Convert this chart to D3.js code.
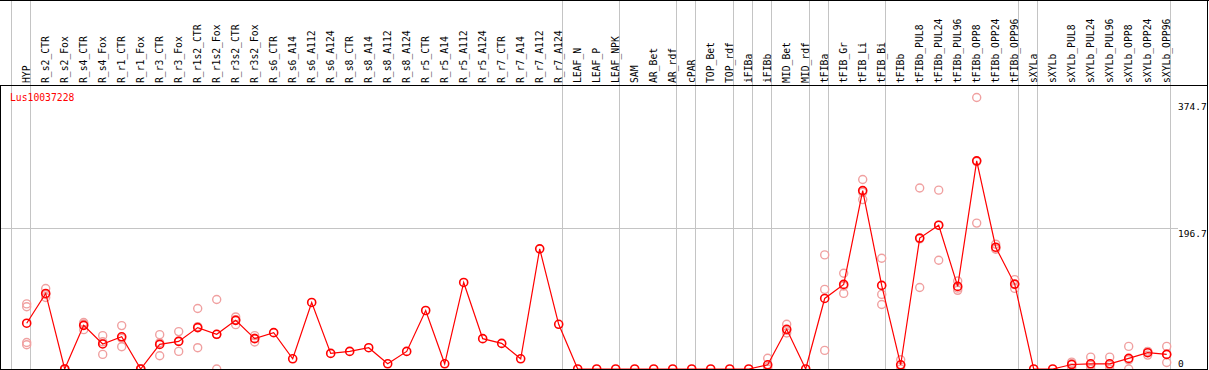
<!DOCTYPE html>
<html>
<head>
<meta charset="utf-8">
<script src="https://cdn.jsdelivr.net/npm/d3@7/dist/d3.min.js"></script>
<style>
    body { margin: 0; background: #ffffff; }
    #chart { width: 1209px; height: 370px; }
</style>
</head>
<body>
<div id="chart"></div>
<script>

var geneName = 'Lus10037228';

var categories = ['HYP', 'R_s2_CTR', 'R_s2_Fox', 'R_s4_CTR', 'R_s4_Fox', 'R_r1_CTR', 'R_r1_Fox',
    'R_r3_CTR', 'R_r3_Fox', 'R_r1s2_CTR', 'R_r1s2_Fox', 'R_r3s2_CTR', 'R_r3s2_Fox', 'R_s6_CTR',
    'R_s6_A14', 'R_s6_A112', 'R_s6_A124', 'R_s8_CTR', 'R_s8_A14', 'R_s8_A112', 'R_s8_A124',
    'R_r5_CTR', 'R_r5_A14', 'R_r5_A112', 'R_r5_A124', 'R_r7_CTR', 'R_r7_A14', 'R_r7_A112', 'R_r7_A124',
    'LEAF_N', 'LEAF_P', 'LEAF_NPK', 'SAM', 'AR_Bet', 'AR_rdf', 'cPAR', 'TOP_Bet', 'TOP_rdf',
    'iFIBa', 'iFIBb', 'MID_Bet', 'MID_rdf', 'tFIBa', 'tFIB_Gr', 'tFIB_Li', 'tFIB_Bi', 'tFIBb',
    'tFIBb_PUL8', 'tFIBb_PUL24', 'tFIBb_PUL96', 'tFIBb_OPP8', 'tFIBb_OPP24', 'tFIBb_OPP96',
    'sXYLa', 'sXYLb', 'sXYLb_PUL8', 'sXYLb_PUL24', 'sXYLb_PUL96', 'sXYLb_OPP8', 'sXYLb_OPP24', 'sXYLb_OPP96'];

// mean expression per sample
var meanValues = [64, 105.6, 0, 61, 35, 45, 0, 34.4, 38.6, 57.9, 48.5, 68, 42.4, 50.8,
    14.3, 93, 21.8, 24.6, 29.8, 7.3, 24.6, 81.8, 7.3, 121, 42.4, 35.8, 14.3, 168, 62.5,
    0, 0, 0, 0, 0, 0, 0, 0, 0, 0, 5.9, 55.5, 0, 98.6, 118.3, 249.4, 116.9, 5.9,
    183, 201, 115.5, 291, 170.3, 118.7, 0, 0, 6.3, 7.3, 7.3, 14.8, 22.8, 20.4];

// single replicates per sample
var replicateValues = [[91, 87, 37, 34], [112.6, 100, 104], [0, 0, 0], [65, 55, 63], [46.6, 20.4, 38],
    [60.7, 31.2, 43], [0, 0, 0], [48, 18.5, 36.7], [52.3, 24.6, 39], [84.6, 29.8, 59.3],
    [97.2, 0, 48.3], [72.8, 62, 69], [46.6, 37.7, 43], [], [], [], [], [], [], [], [], [], [], [], [],
    [], [], [], [], [], [], [], [], [], [], [], [], [], [], [15, 0, 3], [62.5, 50.3, 54], [],
    [159.5, 111.3, 26], [133.8, 105.7, 116], [264.9, 236.8, 247], [154.8, 104.3, 90.2], [12.9, 0, 5],
    [253, 114, 182], [250, 152, 201], [123, 110, 113], [379.6, 204, 290], [174.5, 167.5, 169],
    [125, 112.7, 118], [], [], [9.6, 1.6, 7.7], [16.6, 0, 5.3], [16.6, 0, 5.3], [31.6, 0, 12.8],
    [24.7, 19.4, 24.3], [31.6, 9.1, 20.5]];

// separators drawn after these samples (-1 = before the first one)
var groupEnds = [-1, 0, 28, 31, 34, 35, 37, 38, 39, 41, 42, 45, 52, 53, 60];

var tickValues = [0, 196.7, 374.7];
var tickLabels = ['0', '196.7', '374.7'];
var gridValues = [196.7];

function drawChart(divname) {
    var svgWidth = 1209;
    var svgHeight = 370;
    var svg = d3.select('#' + divname)
        .append('svg')
        .attr('width', svgWidth)
        .attr('height', svgHeight)
        .style('display', 'block');

    var font = 'DejaVu Sans Mono, Liberation Mono, monospace';
    var charW = 5.85;
    var headerBottom = 85.5;
    var plotBottom = 369.5;
    var rightEdge = 1207.5;

    // x: one slot per sample
    var xScale = d3.scalePoint()
        .domain(categories)
        .range([26.7, 1166.7]);
    var step = xScale.step();

    var yScale = d3.scaleLinear()
        .domain([0, 196.7])
        .range([369, 228.3]);

    // horizontal grid line
    svg.append('g').selectAll('line')
        .data(gridValues)
        .enter()
        .append('line')
        .attr('x1', 1)
        .attr('x2', 1178)
        .attr('y1', function (d) { return Math.round(yScale(d)) + 0.5; })
        .attr('y2', function (d) { return Math.round(yScale(d)) + 0.5; })
        .style('stroke', '#c4c4c4')
        .style('stroke-width', 1);

    // group separators
    svg.append('g').selectAll('line')
        .data(groupEnds)
        .enter()
        .append('line')
        .attr('x1', function (d) { return Math.round(xScale(categories[0]) + d * step + 3.7) + 0.5; })
        .attr('x2', function (d) { return Math.round(xScale(categories[0]) + d * step + 3.7) + 0.5; })
        .attr('y1', 0)
        .attr('y2', svgHeight)
        .style('stroke', '#c4c4c4')
        .style('stroke-width', 1);

    // sample labels
    svg.append('g').selectAll('text')
        .data(categories)
        .enter()
        .append('text')
        .attr('x', function (d) { return xScale(d) + 3; })
        .attr('y', 83)
        .attr('transform', function (d) { return 'rotate(-90,' + (xScale(d) + 3) + ',83)'; })
        .attr('textLength', function (d) { return d.length * charW; })
        .attr('lengthAdjust', 'spacingAndGlyphs')
        .style('font-family', font)
        .style('font-size', '11px')
        .style('fill', '#000000')
        .text(function (d) { return d; });

    // borders
    svg.append('line').attr('x1', 0).attr('x2', svgWidth).attr('y1', 0.5).attr('y2', 0.5)
        .style('stroke', '#000').style('stroke-width', 1);
    svg.append('line').attr('x1', 0).attr('x2', rightEdge).attr('y1', headerBottom).attr('y2', headerBottom)
        .style('stroke', '#000').style('stroke-width', 1);
    svg.append('line').attr('x1', 0).attr('x2', rightEdge).attr('y1', plotBottom).attr('y2', plotBottom)
        .style('stroke', '#000').style('stroke-width', 1);
    svg.append('line').attr('x1', 0.5).attr('x2', 0.5).attr('y1', headerBottom).attr('y2', svgHeight)
        .style('stroke', '#000').style('stroke-width', 1);
    svg.append('line').attr('x1', rightEdge).attr('x2', rightEdge).attr('y1', 0).attr('y2', svgHeight)
        .style('stroke', '#000').style('stroke-width', 1);

    // value axis on the right
    var gyaxis = svg.append('g')
        .attr('transform', 'translate(1173,0)');
    var yaxis = d3.axisRight()
        .scale(yScale)
        .tickValues(tickValues)
        .tickSize(0)
        .tickPadding(5)
        .tickFormat(function (d, i) { return tickLabels[i]; });
    yaxis(gyaxis);
    gyaxis.select('.domain').remove();
    gyaxis.selectAll('text')
        .attr('dy', function (d) { return d === 0 ? '-0.3em' : '0.85em'; })
        .style('font-family', font)
        .style('font-size', '9.5px')
        .style('fill', '#000000');

    // gene name
    svg.append('text')
        .attr('x', 10)
        .attr('y', 101)
        .attr('textLength', geneName.length * charW)
        .attr('lengthAdjust', 'spacingAndGlyphs')
        .style('font-family', font)
        .style('font-size', '11px')
        .style('fill', '#ff0000')
        .text(geneName);

    // data area, clipped at the bottom border
    svg.append('clipPath')
        .attr('id', 'plotClip')
        .append('rect')
        .attr('x', 1)
        .attr('y', 86)
        .attr('width', 1206)
        .attr('height', 283);
    var gPlot = svg.append('g').attr('clip-path', 'url(#plotClip)');

    var repData = [];
    replicateValues.forEach(function (reps, i) {
        reps.forEach(function (v) { repData.push([categories[i], v]); });
    });

    gPlot.append('g').selectAll('circle')
        .data(repData)
        .enter()
        .append('circle')
        .attr('cx', function (d) { return xScale(d[0]); })
        .attr('cy', function (d) { return yScale(d[1]); })
        .attr('r', 4)
        .style('fill', 'none')
        .style('stroke', '#f0a0a0')
        .style('stroke-width', 1.4);

    var dataset = d3.zip(categories, meanValues);
    var line = d3.line()
        .x(function (d) { return xScale(d[0]); })
        .y(function (d) { return yScale(d[1]); });

    gPlot.append('path')
        .attr('d', line(dataset))
        .style('stroke', '#ff0000')
        .style('stroke-width', 1.2)
        .style('fill', 'none');

    gPlot.append('g').selectAll('circle')
        .data(dataset)
        .enter()
        .append('circle')
        .attr('cx', function (d) { return xScale(d[0]); })
        .attr('cy', function (d) { return yScale(d[1]); })
        .attr('r', 4)
        .style('fill', 'none')
        .style('stroke', '#ff0000')
        .style('stroke-width', 1.6);
}

drawChart('chart');
</script>
</body>
</html>
